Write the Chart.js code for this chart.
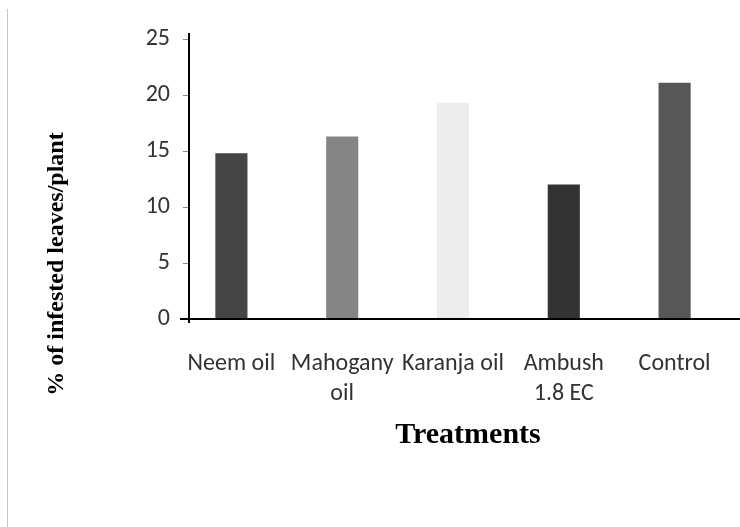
<!DOCTYPE html>
<html>
<head>
<meta charset="utf-8">
<script src="https://cdn.jsdelivr.net/npm/chart.js@4/dist/chart.umd.min.js"></script>
<style>
  html, body { margin: 0; padding: 0; background: #fff; }
  #wrap { width: 740px; height: 527px; }
</style>
</head>
<body>
<div id="wrap"><canvas id="chart" width="740" height="527"></canvas></div>
<script>
// Infested leaves per plant by treatment

const treatments = ['Neem oil', ['Mahogany', 'oil'], 'Karanja oil', ['Ambush', '1.8 EC'], 'Control'];
const infestedPct = [14.8, 16.3, 19.3, 12.0, 21.1];
const barColors = ['#454545', '#858585', '#ededed', '#333333', '#575757'];
const yTicks = [0, 5, 10, 15, 20, 25];

const tickFont = { family: 'Carlito, Lato, sans-serif', size: 24 };

// axis lines, tick marks and titles sit where the original figure put them
const frame = {
  id: 'frame',
  afterDraw(chart) {
    const { ctx } = chart;
    const y = chart.scales.y;
    const axisX = 189;
    const baseY = y.getPixelForValue(0);

    ctx.save();
    ctx.strokeStyle = '#c8c8c8';
    ctx.lineWidth = 1;
    ctx.beginPath();
    ctx.moveTo(7.5, 9);
    ctx.lineTo(7.5, 527);
    ctx.stroke();

    ctx.strokeStyle = '#8a8a8a';
    yTicks.forEach((v) => {
      const py = Math.round(y.getPixelForValue(v)) + 0.5;
      ctx.beginPath();
      ctx.moveTo(183, py);
      ctx.lineTo(axisX, py);
      ctx.stroke();
    });

    ctx.strokeStyle = '#000';
    ctx.lineWidth = 2;
    ctx.beginPath();
    ctx.moveTo(axisX, y.getPixelForValue(25) - 6);
    ctx.lineTo(axisX, baseY + 4);
    ctx.moveTo(180, baseY);
    ctx.lineTo(740, baseY);
    ctx.stroke();

    ctx.fillStyle = '#000';
    ctx.textAlign = 'center';
    ctx.textBaseline = 'middle';
    ctx.font = 'bold 30px "Liberation Serif", serif';
    ctx.fillText('Treatments', 468, 435);

    ctx.translate(57, 264);
    ctx.rotate(-Math.PI / 2);
    ctx.font = 'bold 24px "Liberation Serif", serif';
    ctx.fillText('% of infested leaves/plant', 0, 0);
    ctx.restore();
  },
};

new Chart(document.getElementById('chart'), {
  type: 'bar',
  data: {
    labels: treatments,
    datasets: [{
      data: infestedPct,
      backgroundColor: barColors,
      borderWidth: 0,
      categoryPercentage: 1,
      barPercentage: 0.29,
    }],
  },
  options: {
    responsive: false,
    animation: false,
    layout: { padding: { top: 39, right: 10, left: 0, bottom: 0 } },
    plugins: {
      legend: { display: false },
      tooltip: { enabled: false },
    },
    scales: {
      x: {
        offset: true,
        grid: { display: false },
        border: { display: false },
        afterFit(scale) { scale.height = 208; },
        ticks: {
          font: { ...tickFont, lineHeight: 1.25 },
          color: '#333',
          padding: 22,
          maxRotation: 0,
          autoSkip: false,
        },
      },
      y: {
        min: 0,
        max: 25,
        grid: { display: false },
        border: { display: false },
        afterFit(scale) { scale.width = 176; },
        afterBuildTicks(scale) { scale.ticks = yTicks.map((v) => ({ value: v })); },
        ticks: {
          font: tickFont,
          color: '#333',
          padding: -2,
        },
      },
    },
  },
  plugins: [frame],
});
</script>
</body>
</html>
